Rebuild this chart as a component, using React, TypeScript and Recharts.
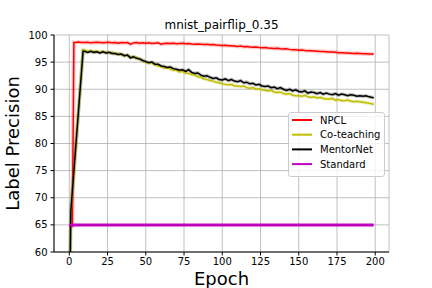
import { CartesianGrid, Line, LineChart, XAxis, YAxis } from 'recharts';

const title = 'mnist_pairflip_0.35';
const xLabel = 'Epoch';
const yLabel = 'Label Precision';
const xTicks = [0, 25, 50, 75, 100, 125, 150, 175, 200];
const yTicks = [60, 65, 70, 75, 80, 85, 90, 95, 100];

// epochs 10, 12, ... 198, then 199
const tailEpochs = [...Array.from({ length: 95 }, (_, i) => 10 + 2 * i), 199];

const npclHeadEpochs = [0, 1, 2, 3, 4, 6, 8];
const npclHead = [64.8, 64.8, 64.8, 98.6, 98.6, 98.7, 98.6];
const npclTail = [
  98.6, 98.65, 98.55, 98.6, 98.65, 98.6, 98.55, 98.6, 98.65, 98.55,
  98.6, 98.5, 98.6, 98.55, 98.6, 98.3, 98.55, 98.6, 98.5, 98.55,
  98.5, 98.55, 98.45, 98.5, 98.55, 98.3, 98.45, 98.5, 98.45, 98.5,
  98.4, 98.45, 98.5, 98.4, 98.45, 98.35, 98.3, 98.35, 98.3, 98.25,
  98.3, 98.2, 98.25, 98.15, 98.1, 98.05, 98.1, 98.0, 98.0, 97.95,
  97.9, 97.95, 97.85, 97.9, 97.8, 97.75, 97.8, 97.7, 97.65, 97.7,
  97.6, 97.55, 97.5, 97.55, 97.45, 97.4, 97.45, 97.35, 97.3, 97.3,
  97.2, 97.25, 97.15, 97.1, 97.1, 97.05, 97.0, 96.95, 96.95, 96.9,
  96.85, 96.85, 96.8, 96.75, 96.75, 96.7, 96.7, 96.65, 96.6, 96.65,
  96.6, 96.55, 96.55, 96.5, 96.5, 96.45
];

const warmupEpochs = [0, 1, 9];
const coteachingHead = [45, 67, 97.3];
const coteachingTail = [
  97.2, 97.0, 97.1, 96.9, 97.0, 96.8, 97.0, 96.8, 96.7, 96.8,
  96.5, 96.6, 96.3, 96.2, 96.3, 95.9, 95.8, 95.9, 95.5, 95.2,
  95.0, 94.8, 94.9, 94.5, 94.3, 94.2, 93.9, 94.0, 93.7, 93.5,
  93.5, 93.2, 93.3, 93.0, 92.9, 92.7, 92.6, 92.3, 92.2, 91.9,
  91.8, 91.6, 91.5, 91.3, 91.2, 91.0, 90.9, 90.8, 90.9, 90.6,
  90.6, 90.5, 90.6, 90.3, 90.2, 90.3, 90.0, 90.1, 89.9, 89.8,
  89.7, 89.8, 89.5, 89.4, 89.5, 89.2, 89.1, 89.2, 88.9, 88.8,
  88.8, 88.7, 88.9, 88.6, 88.5, 88.6, 88.4, 88.5, 88.3, 88.2,
  88.2, 88.3, 88.0, 88.1, 87.9, 87.9, 88.0, 87.8, 87.7, 87.8,
  87.7, 87.6, 87.5, 87.4, 87.3, 87.2
];

const mentornetHead = [45, 67.5, 97.0];
const mentornetTail = [
  97.0, 96.8, 97.0, 96.8, 96.9, 96.7, 96.9, 96.7, 96.8, 96.6,
  96.6, 96.4, 96.5, 96.2, 96.3, 95.8, 96.0, 95.7, 95.6, 95.3,
  95.1, 94.9, 95.0, 94.6, 94.6, 94.3, 94.2, 94.0, 94.1, 93.8,
  93.7, 93.5, 93.6, 93.3, 93.6, 93.1, 92.9, 93.0, 92.6, 92.4,
  92.5, 92.2, 92.0, 92.1, 91.8, 91.7, 91.9, 91.6, 91.8, 91.5,
  91.4, 91.6, 91.2, 91.3, 91.0, 91.1, 90.8, 90.9, 90.6, 90.5,
  90.6, 90.3, 90.4, 90.1, 90.3, 90.0, 89.8, 90.0, 89.7, 89.9,
  89.6, 89.5, 89.7, 89.3, 89.5, 89.4, 89.2, 89.4, 89.1, 89.3,
  89.1, 89.0, 89.2, 88.9, 89.1, 89.0, 88.8, 89.0, 88.9, 88.7,
  88.8, 88.7, 88.8, 88.6, 88.5, 88.4
];

const standardEpochs = [0, 199];
const standardValues = [65.0, 65.0];

function toPoints(epochs: number[], values: number[]) {
  return epochs.map((x, i) => ({ x, v: values[i] }));
}

const npclData = toPoints([...npclHeadEpochs, ...tailEpochs], [...npclHead, ...npclTail]);
const coteachingData = toPoints([...warmupEpochs, ...tailEpochs], [...coteachingHead, ...coteachingTail]);
const mentornetData = toPoints([...warmupEpochs, ...tailEpochs], [...mentornetHead, ...mentornetTail]);
const standardData = toPoints(standardEpochs, standardValues);

const legendItems = [
  { name: 'NPCL', color: '#ff0000' },
  { name: 'Co-teaching', color: '#bfbf00' },
  { name: 'MentorNet', color: '#000000' },
  { name: 'Standard', color: '#bf00bf' }
];

const font = '"DejaVu Sans", sans-serif';

function App() {
  const tick = { fontSize: 10, fill: '#000', fontFamily: font };
  return (
    <div style={{ position: 'fixed', left: 0, top: 0, width: 432, height: 288, background: '#fff' }}>
      <LineChart
        width={432}
        height={288}
        margin={{ top: 35, right: 43, bottom: 0, left: 0 }}
      >
        <CartesianGrid stroke="#b0b0b0" strokeWidth={0.8} />
        <XAxis
          dataKey="x"
          type="number"
          domain={[-10, 209]}
          ticks={xTicks}
          height={36}
          tick={tick}
          tickSize={3.5}
          tickMargin={2}
          stroke="#000"
          allowDataOverflow
        />
        <XAxis
          xAxisId="top"
          orientation="top"
          type="number"
          domain={[-10, 209]}
          height={0}
          tick={false}
          tickLine={false}
          stroke="#000"
        />
        <YAxis
          type="number"
          domain={[60, 100]}
          ticks={yTicks}
          width={54}
          tick={tick}
          tickSize={3.5}
          tickMargin={3}
          stroke="#000"
          allowDataOverflow
        />
        <YAxis
          yAxisId="right"
          orientation="right"
          type="number"
          domain={[60, 100]}
          width={0}
          tick={false}
          tickLine={false}
          stroke="#000"
        />
        <Line data={npclData} dataKey="v" stroke="#ff0000" strokeOpacity={0.2} strokeWidth={4} dot={false} isAnimationActive={false} />
        <Line data={coteachingData} dataKey="v" stroke="#bfbf00" strokeOpacity={0.25} strokeWidth={3.5} dot={false} isAnimationActive={false} />
        <Line data={mentornetData} dataKey="v" stroke="#000" strokeOpacity={0.25} strokeWidth={3.5} dot={false} isAnimationActive={false} />
        <Line data={npclData} dataKey="v" stroke="#ff0000" strokeWidth={1.5} dot={false} isAnimationActive={false} />
        <Line data={coteachingData} dataKey="v" stroke="#bfbf00" strokeWidth={1.5} dot={false} isAnimationActive={false} />
        <Line data={mentornetData} dataKey="v" stroke="#000" strokeWidth={1.5} dot={false} isAnimationActive={false} />
        <Line data={standardData} dataKey="v" stroke="#bf00bf" strokeWidth={3} dot={false} isAnimationActive={false} />
      </LineChart>
      <svg width={432} height={288} style={{ position: 'absolute', left: 0, top: 0, pointerEvents: 'none' }}>
        <text x={221.5} y={29} textAnchor="middle" fontSize={12} fontFamily={font}>{title}</text>
        <text x={221.5} y={284.5} textAnchor="middle" fontSize={18} fontFamily={font}>{xLabel}</text>
        <text
          x={19}
          y={143.5}
          textAnchor="middle"
          fontSize={18}
          fontFamily={font}
          transform="rotate(-90 19 143.5)"
        >
          {yLabel}
        </text>
        <g>
          <rect x={288.5} y={112.5} width={96} height={64} rx={2.5} fill="#fff" fillOpacity={0.8} stroke="#cccccc" />
          {legendItems.map((item, i) => (
            <g key={item.name}>
              <line x1={292} x2={312} y1={120 + i * 14.7} y2={120 + i * 14.7} stroke={item.color} strokeWidth={2} />
              <text x={320} y={123.5 + i * 14.7} fontSize={10} fontFamily={font}>{item.name}</text>
            </g>
          ))}
        </g>
      </svg>
    </div>
  );
}

export default App;
